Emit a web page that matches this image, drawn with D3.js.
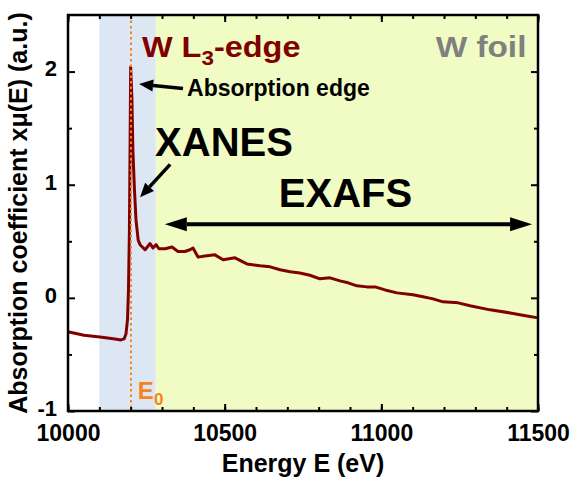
<!DOCTYPE html>
<html>
<head>
<meta charset="utf-8">
<script src="https://cdn.jsdelivr.net/npm/d3@7"></script>
<style>
  html, body { margin: 0; padding: 0; background: #fff; }
  svg { display: block; font-family: "Liberation Sans", Arial, sans-serif; font-weight: bold; }
</style>
</head>
<body>
<svg id="chart" width="575" height="482"></svg>
<script>
// W L3-edge absorption spectrum of a tungsten foil
const energy = [10000, 10051, 10102, 10150, 10169, 10179, 10185, 10190, 10193, 10196, 10198, 10200,
  10204, 10207, 10212, 10217, 10224, 10230, 10246, 10262, 10271, 10281, 10290, 10310, 10332, 10351,
  10373, 10389, 10399, 10415, 10437, 10469, 10495, 10533, 10571, 10613, 10645, 10677, 10709, 10740,
  10772, 10804, 10836, 10868, 10894, 10922, 10954, 10980, 11012, 11050, 11101, 11133, 11165, 11197,
  11245, 11283, 11347, 11411, 11465, 11500];
const absorption = [-0.30, -0.33, -0.345, -0.363, -0.372, -0.363, -0.32, -0.19, 0.07, 0.60, 1.31, 2.04,
  1.75, 1.31, 0.96, 0.69, 0.51, 0.47, 0.425, 0.48, 0.44, 0.47, 0.434, 0.434, 0.45, 0.41,
  0.41, 0.425, 0.44, 0.36, 0.37, 0.38, 0.336, 0.354, 0.30, 0.283, 0.274, 0.248, 0.23, 0.22,
  0.20, 0.168, 0.177, 0.15, 0.133, 0.106, 0.097, 0.097, 0.07, 0.044, 0.027, 0.009, -0.009, -0.035,
  -0.044, -0.07, -0.106, -0.133, -0.16, -0.177];

const edgeEnergy = 10201;                 // E0
const regionNames = ["XANES", "EXAFS"];
const regionStart = [10100, 10280];
const regionEnd = [10280, 11500];

const xMajorTicks = [10000, 10500, 11000, 11500];
const xMinorTicks = d3.range(10000, 11501, 100);
const yMajorTicks = [-1, 0, 1, 2];
const yMinorTicks = [-0.5, 0.5, 1.5];

const svg = d3.select("#chart");
const m = { left: 68, top: 15, right: 37, bottom: 71 };
const W = 575 - m.left - m.right, H = 482 - m.top - m.bottom;

const x = d3.scaleLinear().domain([10000, 11500]).range([0, W]);
const y = d3.scaleLinear().domain([-1, 2.5]).range([H, 0]);

const g = svg.append("g").attr("transform", `translate(${m.left},${m.top})`);

// shaded regions
const regionFill = ["#dde7f4", "#f0fcc4"];
g.selectAll("rect.region").data(regionNames).join("rect")
  .attr("class", "region")
  .attr("x", (d, i) => x(regionStart[i]))
  .attr("width", (d, i) => x(regionEnd[i]) - x(regionStart[i]))
  .attr("y", 0).attr("height", H)
  .attr("fill", (d, i) => regionFill[i]);

// spectrum
const pts = energy.map((e, i) => [e, absorption[i]]);
g.append("path").datum(pts)
  .attr("fill", "none").attr("stroke", "#800000").attr("stroke-width", 3)
  .attr("stroke-linejoin", "round")
  .attr("d", d3.line().x(d => x(d[0])).y(d => y(d[1])));

// E0 marker
g.append("line")
  .attr("x1", x(edgeEnergy)).attr("x2", x(edgeEnergy))
  .attr("y1", 0).attr("y2", H)
  .attr("stroke", "#f5841f").attr("stroke-width", 2).attr("stroke-dasharray", "2.5,3");

// axes, ticks pointing inward on all four sides
function styleAxis(sel, size) {
  sel.select(".domain").remove();
  sel.selectAll("line").attr("stroke", "#000").attr("stroke-width", 2);
  sel.selectAll("text").attr("fill", "#000").attr("font-size", size || 23)
    .attr("font-family", '"Liberation Sans", Arial, sans-serif').attr("font-weight", "bold");
}
const plainNum = d => String(d);
g.append("g").attr("transform", `translate(0,${H})`)
  .call(d3.axisBottom(x).tickValues(xMinorTicks).tickSize(-4).tickFormat(""))
  .call(styleAxis);
g.append("g").attr("transform", `translate(0,${H})`)
  .call(d3.axisBottom(x).tickValues(xMajorTicks).tickSize(-7).tickPadding(14).tickFormat(plainNum))
  .call(styleAxis, 23);
g.append("g")
  .call(d3.axisTop(x).tickValues(xMinorTicks).tickSize(-4).tickFormat(""))
  .call(styleAxis);
g.append("g")
  .call(d3.axisTop(x).tickValues(xMajorTicks).tickSize(-7).tickFormat(""))
  .call(styleAxis);
g.append("g")
  .call(d3.axisLeft(y).tickValues(yMinorTicks).tickSize(-4).tickFormat(""))
  .call(styleAxis);
const yAx = g.append("g")
  .call(d3.axisLeft(y).tickValues(yMajorTicks).tickSize(-7).tickPadding(11).tickFormat(plainNum))
  .call(styleAxis, 22);
yAx.selectAll("text").attr("dy", "0.2em");
g.append("g").attr("transform", `translate(${W},0)`)
  .call(d3.axisRight(y).tickValues(yMinorTicks).tickSize(-4).tickFormat(""))
  .call(styleAxis);
g.append("g").attr("transform", `translate(${W},0)`)
  .call(d3.axisRight(y).tickValues(yMajorTicks).tickSize(-7).tickFormat(""))
  .call(styleAxis);

// frame
g.append("rect").attr("width", W).attr("height", H)
  .attr("fill", "none").attr("stroke", "#000").attr("stroke-width", 2.5);

// axis titles
svg.append("text")
  .attr("x", m.left + W / 2).attr("y", 472)
  .attr("text-anchor", "middle").attr("font-size", 25)
  .text("Energy E (eV)");
svg.append("text")
  .attr("transform", `translate(27,${m.top + H / 2}) rotate(-90)`)
  .attr("text-anchor", "middle").attr("font-size", 25)
  .text("Absorption coefficient xμ(E) (a.u.)");

// arrows
function arrow(x1, y1, x2, y2, width, headLen, headW) {
  const ang = Math.atan2(y2 - y1, x2 - x1);
  const bx = x2 - headLen * Math.cos(ang), by = y2 - headLen * Math.sin(ang);
  g.append("line").attr("x1", x1).attr("y1", y1).attr("x2", bx).attr("y2", by)
    .attr("stroke", "#000").attr("stroke-width", width);
  const px = -Math.sin(ang) * headW / 2, py = Math.cos(ang) * headW / 2;
  g.append("path")
    .attr("d", `M${x2},${y2}L${bx + px},${by + py}L${bx - px},${by - py}Z`)
    .attr("fill", "#000");
}
arrow(x(10367), y(1.85), x(10227), y(1.89), 3.5, 14, 12);
arrow(x(10326), y(1.18), x(10230), y(0.89), 3.5, 14, 12);
arrow(x(10600), y(0.65), x(10309), y(0.65), 4, 22, 14);
arrow(x(10600), y(0.65), x(11481), y(0.65), 4, 22, 14);

// labels (the two headings are drawn slightly widened)
const lab = g.append("g");
const edgeTitle = lab.append("g")
  .attr("transform", `translate(${x(10236)},${y(2.13)}) scale(1.12,1)`)
  .append("text").attr("font-size", 29).attr("fill", "#800000");
edgeTitle.append("tspan").text("W L");
edgeTitle.append("tspan").attr("font-size", 20).attr("dy", 8).text("3");
edgeTitle.append("tspan").attr("dy", -8).text("-edge");

lab.append("g")
  .attr("transform", `translate(${x(11463)},${y(2.13)}) scale(1.15,1)`)
  .append("text")
  .attr("text-anchor", "end").attr("font-size", 29).attr("fill", "#808080")
  .text("W foil");

lab.append("text")
  .attr("x", x(10380)).attr("y", y(1.78))
  .attr("font-size", 23).text("Absorption edge");

lab.append("text")
  .attr("x", x(10278)).attr("y", y(1.25))
  .attr("font-size", 40).text(regionNames[0]);

lab.append("text")
  .attr("x", x(10673)).attr("y", y(0.80))
  .attr("font-size", 40).text(regionNames[1]);

const e0 = lab.append("text")
  .attr("x", x(10223)).attr("y", y(-0.89))
  .attr("font-size", 24).attr("fill", "#f5841f");
e0.append("tspan").text("E");
e0.append("tspan").attr("font-size", 17).attr("dy", 6).text("0");
</script>
</body>
</html>
